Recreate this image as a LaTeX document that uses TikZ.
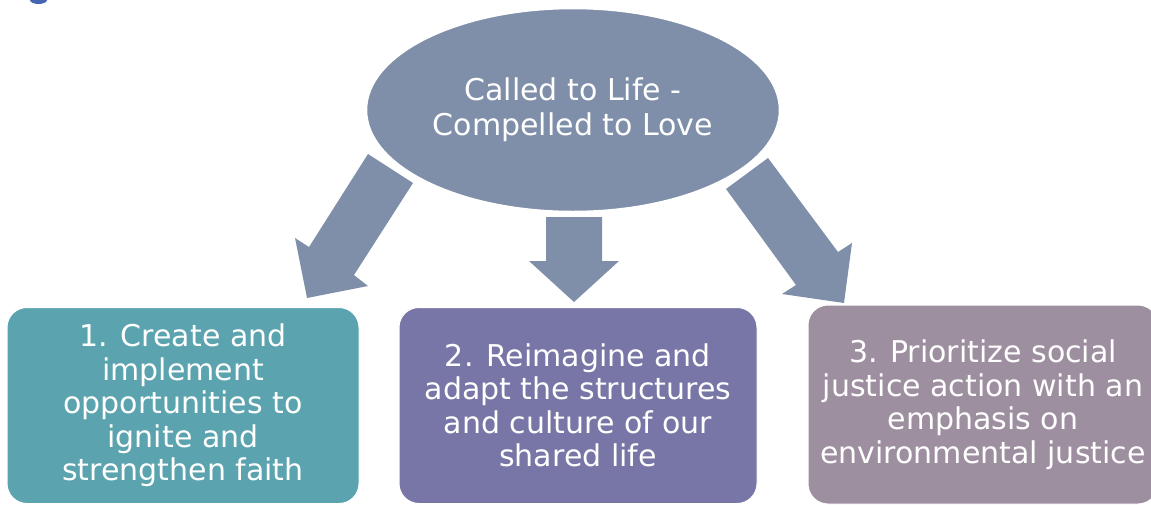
\documentclass[tikz,border=0pt]{standalone}
\usepackage{fontspec}
\setmainfont{DejaVu Sans}
\usetikzlibrary{shapes.geometric}
\definecolor{slate}{RGB}{127,143,169}
\definecolor{tealbox}{RGB}{91,163,174}
\definecolor{purpbox}{RGB}{120,118,166}
\definecolor{mauvebox}{RGB}{158,143,160}
\definecolor{ttlblue}{RGB}{68,100,180}
\begin{document}
\begin{tikzpicture}[x=1pt,y=-1pt,
  boxstyle/.style={rectangle, rounded corners=20pt, text=white, align=center,
    font=\fontsize{30}{33.5}\selectfont, inner sep=0pt, draw=white, line width=1pt},
  blockarrow/.style={fill=slate},
  topell/.style={ellipse, fill=slate, draw=white, line width=2.5pt, text=white, align=center,
    font=\fontsize{30}{35}\selectfont, inner sep=0pt,
    minimum width=414pt, minimum height=204pt}]
\useasboundingbox (0,0) rectangle (1151,504);
\clip (0,0) rectangle (1151,504);
% fragment of a cut-off title
\fill[ttlblue] (38.5,0) ellipse [x radius=8.5, y radius=4];
% block arrows
\fill[blockarrow] (368,154) -- (413,183) -- (354,275) -- (368,286) -- (307,298) -- (295,238) -- (309,247) -- cycle;
\fill[blockarrow] (546,217) -- (602,217) -- (602,261) -- (619,261) -- (574,302) -- (529,261) -- (546,261) -- cycle;
\fill[blockarrow] (768,158) -- (838,252) -- (852,243) -- (844,303) -- (782,294) -- (796,285) -- (726,189) -- cycle;
% central ellipse
\node[topell] (top) at (573,110) {Called to Life -\\Compelled to Love};
% boxes
\node[boxstyle, fill=tealbox, minimum width=352pt, minimum height=196pt] (b1) at (183,405.5)
  {1. Create and\\implement\\opportunities to\\ignite and\\strengthen faith};
\node[boxstyle, fill=purpbox, minimum width=358pt, minimum height=196pt] (b2) at (578,405.5)
  {2. Reimagine and\\adapt the structures\\and culture of our\\shared life};
\node[boxstyle, fill=mauvebox, minimum width=350pt, minimum height=199pt] (b3) at (983,404.5)
  {3. Prioritize social\\justice action with an\\emphasis on\\environmental justice};
\end{tikzpicture}
\end{document}
